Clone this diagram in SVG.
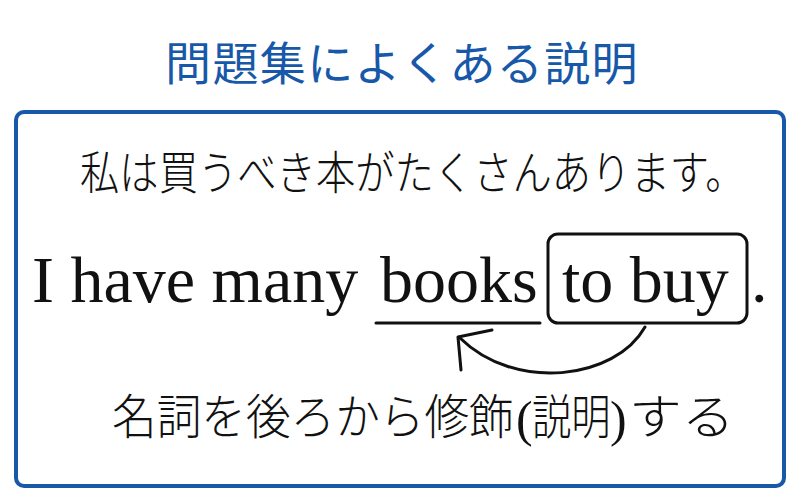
<svg xmlns="http://www.w3.org/2000/svg" width="800" height="500" viewBox="0 0 800 500">
<style>
.jp{font-family:"Noto Sans CJK JP","Noto Sans",sans-serif;fill:#111;}
.cap{font-size:48px;font-weight:300;}
.par{font-family:"Liberation Serif","Times New Roman",serif;fill:#111;font-size:50px;}
.en{font-family:"Liberation Serif","Times New Roman",serif;fill:#111;font-size:66px;}
.ln{fill:none;stroke:#111;stroke-width:3;stroke-linecap:round;stroke-linejoin:round;}
</style>
<rect width="800" height="500" fill="#fff"/>
<g id="title">
<text x="402" y="80" text-anchor="middle" class="jp" style="fill:#1758a8;font-size:46px;font-weight:400" letter-spacing="1.4">問題集によくある説明</text>
</g>
<g id="frame">
<rect x="16" y="112" width="768" height="374" rx="8" fill="none" stroke="#1758a8" stroke-width="4"/>
</g>
<g id="sentence-jp">
<text transform="translate(80,189) scale(0.855,1)" class="jp" style="font-size:46px;font-weight:300">私は買うべき本がたくさんあります。</text>
</g>
<g id="sentence-en">
<text x="32" y="302" class="en">I have many</text>
<g id="books">
<text x="380" y="302" class="en">books</text>
<line x1="376" y1="323" x2="540" y2="323" class="ln"/>
</g>
<g id="to-buy">
<rect x="548" y="234" width="199" height="89" rx="10" class="ln"/>
<text x="562" y="302" class="en">to buy</text>
</g>
<text x="751" y="302" class="en">.</text>
</g>
<g id="connectors">
<path d="M645,327 C615,380 515,392 460,338" class="ln"/>
<path d="M492,330 L458,337 L461,370" class="ln"/>
</g>
<g id="caption">
<text transform="translate(112,434) scale(0.93,1)" class="jp cap">名詞を後ろから修飾</text>
<text x="516" y="436" class="par">(</text>
<text transform="translate(532,434) scale(0.82,1)" class="jp cap">説明</text>
<text x="610" y="436" class="par">)</text>
<text transform="translate(629,434) scale(1.1,1)" class="jp cap">する</text>
</g>
</svg>
